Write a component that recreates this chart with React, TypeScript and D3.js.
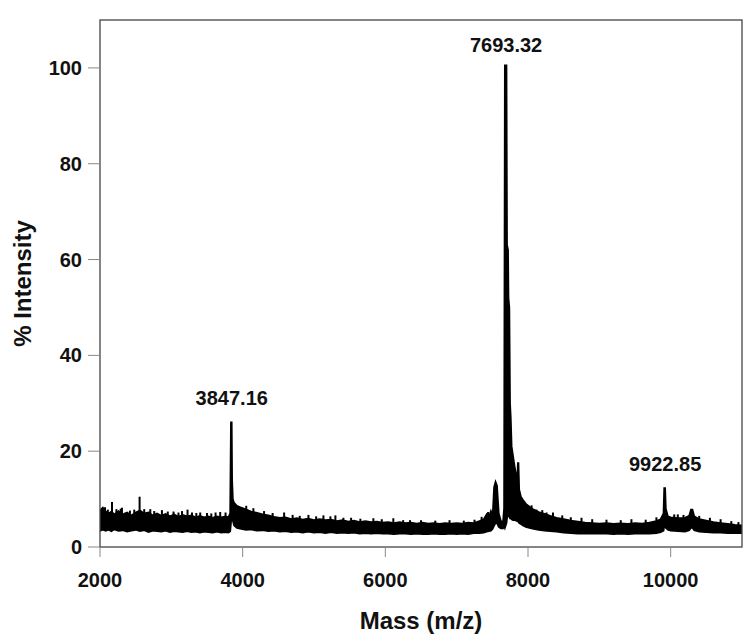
import React from "react";
import * as d3 from "d3";

// spectrum envelope (mass, band top %, band bottom %)
const envMass = [
  2000, 2040, 2080, 2120, 2160, 2200, 2260, 2320, 2380, 2440, 2500, 2560, 2620, 2680, 2740, 2800,
  2860, 2920, 2980, 3040, 3100, 3160, 3220, 3280, 3340, 3400, 3460, 3520, 3580, 3640, 3700, 3760,
  3800, 3825, 3836, 3846, 3852, 3862, 3880, 3920, 3980, 4050, 4120, 4200, 4280, 4360, 4440, 4520,
  4600, 4680, 4760, 4840, 4920, 5000, 5080, 5160, 5240, 5320, 5400, 5480, 5560, 5640, 5720, 5800,
  5880, 5960, 6040, 6120, 6200, 6280, 6360, 6440, 6520, 6600, 6680, 6760, 6840, 6920, 7000, 7080,
  7160, 7240, 7320, 7380, 7420, 7450, 7480, 7505, 7525, 7545, 7565, 7590, 7620, 7650, 7665, 7676,
  7698, 7706, 7720, 7726, 7738, 7748, 7758, 7770, 7790, 7810, 7835, 7848, 7858, 7866, 7876, 7900,
  7930, 7970, 8020, 8080, 8150, 8230, 8310, 8400, 8500, 8600, 8700, 8800, 8900, 9000, 9100, 9200,
  9300, 9400, 9500, 9600, 9700, 9800, 9860, 9900, 9910, 9922, 9932, 9960, 10000, 10100, 10200, 10260,
  10285, 10305, 10330, 10400, 10500, 10600, 10700, 10800, 10900, 11000,
];
const envTop = [
  7.6, 8.2, 7.4, 7.0, 7.4, 6.8, 7.5, 6.8, 7.2, 6.6, 7.2, 7.6, 7.0, 7.2, 6.6, 7.0,
  6.5, 6.9, 6.4, 6.8, 6.3, 6.7, 6.4, 6.6, 6.2, 6.5, 6.2, 6.4, 6.1, 6.4, 6.2, 6.4,
  6.2, 7.0, 26.0, 26.0, 14.0, 10.0, 9.2, 8.6, 8.2, 7.8, 7.4, 7.1, 6.8, 6.6, 6.3, 6.1,
  6.2, 5.8, 6.0, 5.7, 5.9, 5.6, 5.8, 5.6, 5.7, 5.4, 5.6, 5.3, 5.5, 5.2, 5.4, 5.2,
  5.3, 5.1, 5.2, 5.0, 5.2, 5.0, 5.1, 4.9, 5.1, 4.9, 5.0, 4.8, 5.0, 4.9, 5.0, 4.9,
  5.1, 5.0, 5.4, 5.8, 6.8, 6.2, 7.5, 6.5, 12.5, 13.6, 12.8, 7.0, 5.4, 5.2, 8.0, 100.5,
  100.5, 63, 62, 52, 50, 30, 27, 21, 19, 17, 15, 12, 17.5, 17.5, 12, 10.5,
  9.8, 9.0, 8.4, 7.8, 7.3, 6.9, 6.5, 6.1, 5.8, 5.5, 5.3, 5.1, 5.0, 4.9, 5.0, 4.8,
  4.9, 4.8, 5.0, 4.9, 5.1, 5.4, 5.8, 7.0, 12.3, 12.3, 8.0, 6.4, 6.2, 6.0, 6.1, 6.5,
  7.8, 7.8, 6.4, 5.8, 5.5, 5.2, 5.0, 4.8, 4.6, 4.5,
];
const envBottom = [
  3.4, 3.6, 3.4, 3.6, 3.3, 3.7, 3.4, 3.5, 3.2, 3.4, 3.6, 3.3, 3.5, 3.1, 3.4, 3.3,
  3.2, 3.4, 3.1, 3.3, 3.2, 3.1, 3.3, 3.1, 3.2, 3.0, 3.2, 3.1, 3.0, 3.2, 3.0, 3.1,
  3.0, 3.3, 5.0, 8.0, 7.0, 5.5, 4.5, 4.0, 3.8, 3.6, 3.7, 3.4, 3.5, 3.3, 3.4, 3.2,
  3.3, 3.1, 3.2, 3.0, 3.2, 3.0, 3.1, 2.9, 3.1, 2.9, 3.0, 2.9, 3.0, 2.8, 2.9, 2.8,
  2.9, 2.8, 2.8, 2.7, 2.8, 2.8, 2.7, 2.8, 2.7, 2.7, 2.8, 2.7, 2.7, 2.8, 2.7, 2.8,
  2.7, 2.9, 2.9, 3.0, 3.2, 3.3, 3.4, 3.8, 4.5, 5.0, 5.0, 4.2, 3.9, 3.9, 4.5, 4.0,
  5.0, 6.0, 6.5, 6.5, 6.5, 6.0, 6.0, 5.8, 5.6, 5.6, 5.5, 5.4, 5.4, 5.2, 5.0, 4.8,
  4.5, 4.2, 4.0, 3.8, 3.6, 3.4, 3.3, 3.2, 3.0, 2.9, 2.8, 2.8, 2.8, 2.8, 2.8, 2.7,
  2.8, 2.7, 2.8, 2.8, 2.8, 2.9, 3.1, 3.4, 4.5, 5.0, 4.0, 3.6, 3.4, 3.3, 3.2, 3.5,
  4.0, 4.0, 3.5, 3.2, 3.1, 3.0, 3.0, 2.9, 2.9, 2.9,
];

// narrow noise spikes sticking out of the band
const spikeMass = [
  2070, 2110, 2168, 2230, 2290, 2308, 2420, 2480, 2555, 2620, 2705, 2760, 2868, 2950, 3031, 3100,
  3150, 3227, 3290, 3350, 3405, 3500, 3560, 3620, 3685, 3760, 4050, 4150, 4300, 4420, 4581, 4700,
  4800, 4922, 5030, 5132, 5230, 5300, 5412, 5520, 5650, 5832, 5950, 6112, 6250, 6346, 6500, 6700,
  6900, 7100, 7250, 7350, 7440, 8050, 8120, 8200, 8260, 8350, 8480, 8600, 8750, 8900, 9100, 9300,
  9450, 9650, 9800, 10050, 10100, 10180, 10400, 10550, 10700, 10850, 10950,
];
const spikeTop = [
  8.3, 7.8, 9.4, 7.9, 8.0, 8.2, 7.6, 7.8, 10.5, 7.9, 7.9, 7.5, 7.7, 7.4, 7.4, 7.2,
  7.5, 7.8, 7.2, 7.1, 7.2, 7.1, 7.0, 7.2, 7.3, 7.2, 8.6, 8.1, 7.5, 7.1, 7.2, 6.7,
  6.5, 6.7, 6.4, 6.6, 6.4, 6.6, 6.1, 6.1, 5.9, 6.0, 5.8, 6.0, 5.6, 5.6, 5.6, 5.5,
  5.6, 5.5, 5.7, 6.3, 7.3, 8.7, 7.8, 7.7, 7.2, 7.2, 6.6, 6.2, 6.1, 5.8, 5.7, 5.6,
  5.8, 5.7, 6.2, 6.8, 6.8, 6.7, 6.5, 6.1, 5.8, 5.4, 5.2,
];

// annotated peaks
const peakLabels = ["3847.16", "7693.32", "9922.85"];
const peakMass = [3847, 7693, 9922];
const peakHeight = [26, 100.5, 12.3];

const xTicks = [2000, 4000, 6000, 8000, 10000];
const yTicks = [0, 20, 40, 60, 80, 100];

const W = 750;
const H = 641;
const margin = { left: 100, right: 8, top: 20, bottom: 94 };
const font = "'Liberation Sans', Arial, sans-serif";

export default function App() {
  const x = d3.scaleLinear().domain([2000, 11000]).range([margin.left, W - margin.right]);
  const y = d3.scaleLinear().domain([0, 110]).range([H - margin.bottom, margin.top]);
  const x0 = margin.left;
  const x1 = W - margin.right;
  const y0 = H - margin.bottom;

  const pts = envMass.map((m, i) => ({ m, t: envTop[i], b: envBottom[i] }));
  const area = d3
    .area<{ m: number; t: number; b: number }>()
    .x((d) => x(d.m))
    .y0((d) => y(d.b))
    .y1((d) => y(d.t));

  return (
    <div style={{ position: "absolute", left: 0, top: 0 }}>
      <svg width={W} height={H} style={{ display: "block", background: "#fff" }}>
        <defs>
          <clipPath id="plot">
            <rect x={x0} y={margin.top} width={x1 - x0} height={y0 - margin.top} />
          </clipPath>
        </defs>
        <g clipPath="url(#plot)">
          <path d={area(pts) || ""} fill="#000" stroke="#000" strokeWidth={1.8} strokeLinejoin="miter" />
          {spikeMass.map((m, i) => (
            <line key={i} x1={x(m)} x2={x(m)} y1={y(4)} y2={y(spikeTop[i])} stroke="#000" strokeWidth={2} />
          ))}
        </g>
        {/* frame */}
        <rect x={x0} y={margin.top} width={x1 - x0} height={y0 - margin.top} fill="none" stroke="#444" strokeWidth={1.3} />
        {/* x axis */}
        {xTicks.map((t) => (
          <g key={t}>
            <line x1={x(t)} x2={x(t)} y1={y0} y2={y0 + 10} stroke="#888" strokeWidth={1} />
            <text x={x(t)} y={y0 + 40} textAnchor="middle" fontFamily={font} fontWeight="bold" fontSize={20} fill="#111">
              {t}
            </text>
          </g>
        ))}
        {/* y axis */}
        {yTicks.map((t) => (
          <g key={t}>
            <line x1={x0 - 12} x2={x0} y1={y(t)} y2={y(t)} stroke="#888" strokeWidth={1} />
            <text x={x0 - 18} y={y(t) + 7} textAnchor="end" fontFamily={font} fontWeight="bold" fontSize={20} fill="#111">
              {t}
            </text>
          </g>
        ))}
        <text x={(x0 + x1) / 2} y={H - 12} textAnchor="middle" fontFamily={font} fontWeight="bold" fontSize={24} fill="#111">
          Mass (m/z)
        </text>
        <text
          transform={`translate(31, ${(margin.top + y0) / 2}) rotate(-90)`}
          textAnchor="middle"
          fontFamily={font}
          fontWeight="bold"
          fontSize={24}
          fill="#111"
        >
          % Intensity
        </text>
        {peakLabels.map((lab, i) => (
          <text
            key={lab}
            x={x(peakMass[i])}
            y={y(peakHeight[i]) - (i === 1 ? 14 : 17)}
            textAnchor="middle"
            fontFamily={font}
            fontWeight="bold"
            fontSize={20}
            fill="#111"
          >
            {lab}
          </text>
        ))}
      </svg>
    </div>
  );
}
